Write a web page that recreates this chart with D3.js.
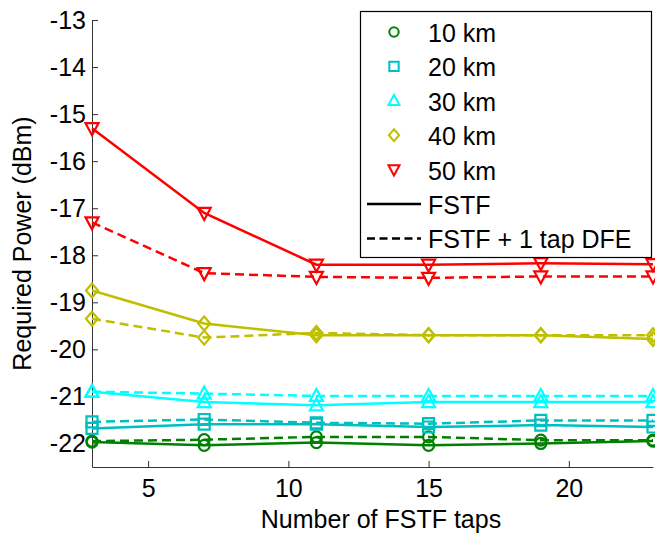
<!DOCTYPE html>
<html>
<head>
<meta charset="utf-8">
<script src="https://cdn.jsdelivr.net/npm/d3@7/dist/d3.min.js"></script>
<style>
  html, body { margin: 0; padding: 0; background: #fff; }
  svg { display: block; font-family: Arial, "Liberation Sans", sans-serif; }
</style>
</head>
<body>
<svg id="chart" width="655" height="534"></svg>
<script>
// Number of FSTF taps on the x axis
const taps = [3, 7, 11, 15, 19, 23];
const distances = ["10 km", "20 km", "30 km", "40 km", "50 km"];

// Required power (dBm), FSTF only
const fstf10 = [-21.97, -22.04, -21.98, -22.04, -22.00, -21.95];
const fstf20 = [-21.68, -21.59, -21.59, -21.65, -21.61, -21.65];
const fstf30 = [-20.90, -21.12, -21.19, -21.12, -21.12, -21.12];
const fstf40 = [-18.75, -19.45, -19.70, -19.70, -19.70, -19.78];
const fstf50 = [-15.30, -17.10, -18.20, -18.20, -18.17, -18.19];

// Required power (dBm), FSTF + 1 tap DFE
const dfe10 = [-21.95, -21.92, -21.86, -21.86, -21.93, -21.93];
const dfe20 = [-21.54, -21.49, -21.56, -21.58, -21.51, -21.51];
const dfe30 = [-20.90, -20.94, -20.99, -20.99, -20.99, -20.99];
const dfe40 = [-19.35, -19.75, -19.65, -19.70, -19.70, -19.70];
const dfe50 = [-17.30, -18.38, -18.46, -18.48, -18.45, -18.45];

const xTicks = [5, 10, 15, 20];
const yTicks = [-22, -21, -20, -19, -18, -17, -16, -15, -14, -13];

const colors = ["#008000", "#00BFBF", "#00FFFF", "#BFBF00", "#FF0000"];
const markers = ["circle", "square", "triangleUp", "diamond", "triangleDown"];
const fstfSeries = [fstf10, fstf20, fstf30, fstf40, fstf50];
const dfeSeries = [dfe10, dfe20, dfe30, dfe40, dfe50];

const svg = d3.select("#chart");
const x = d3.scaleLinear().domain([3, 23]).range([92, 653]);
const y = d3.scaleLinear().domain([-22.5, -13]).range([467, 20]);

function markerPath(kind, k = 1) {
  const p = d3.path();
  if (kind === "circle") {
    p.arc(0, 0, 5.5 * k, 0, 2 * Math.PI);
  } else if (kind === "square") {
    const s = 5.5 * k;
    p.rect(-s, -s, 2 * s, 2 * s);
  } else if (kind === "triangleUp") {
    p.moveTo(0, -7 * k); p.lineTo(6.5 * k, 5 * k); p.lineTo(-6.5 * k, 5 * k); p.closePath();
  } else if (kind === "triangleDown") {
    p.moveTo(0, 7 * k); p.lineTo(6.5 * k, -5 * k); p.lineTo(-6.5 * k, -5 * k); p.closePath();
  } else if (kind === "diamond") {
    p.moveTo(0, -7 * k); p.lineTo(6 * k, 0); p.lineTo(0, 7 * k); p.lineTo(-6 * k, 0); p.closePath();
  }
  return p.toString();
}

// Axes (left and bottom only, ticks pointing inward)
const axisColor = "#333";
const yAxis = d3.axisLeft(y).tickValues(yTicks).tickFormat(d => String(d))
  .tickSizeInner(-6).tickSizeOuter(0).tickPadding(6);
const xAxis = d3.axisBottom(x).tickValues(xTicks).tickFormat(d => String(d))
  .tickSizeInner(-6).tickSizeOuter(0).tickPadding(12);

const gy = svg.append("g").attr("transform", `translate(${x(3)},0)`).call(yAxis);
const gx = svg.append("g").attr("transform", `translate(0,${y(-22.5)})`).call(xAxis);
[gx, gy].forEach(g => {
  g.select(".domain").attr("stroke", axisColor).attr("stroke-width", 1);
  g.selectAll(".tick line").attr("stroke", axisColor).attr("stroke-width", 1);
  g.selectAll(".tick text").attr("fill", "#000").style("font-size", "25px")
    .style("font-family", "Arial, 'Liberation Sans', sans-serif");
});

// Axis titles
svg.append("text")
  .attr("x", 381).attr("y", 528)
  .attr("text-anchor", "middle").style("font-size", "25px")
  .text("Number of FSTF taps");
svg.append("text")
  .attr("transform", `translate(31,${(y(-13) + y(-22.5)) / 2}) rotate(-90)`)
  .attr("text-anchor", "middle").style("font-size", "25px")
  .text("Required Power (dBm)");

// Series
const line = d3.line().x((d, i) => x(taps[i])).y(d => y(d));
const plot = svg.append("g");
distances.forEach((name, s) => {
  [[fstfSeries[s], null], [dfeSeries[s], "9,5"]].forEach(([vals, dash]) => {
    plot.append("path")
      .attr("d", line(vals))
      .attr("fill", "none")
      .attr("stroke", colors[s])
      .attr("stroke-width", 2.5)
      .attr("stroke-dasharray", dash);
    plot.selectAll(null).data(vals).enter().append("path")
      .attr("d", markerPath(markers[s]))
      .attr("transform", (d, i) => `translate(${x(taps[i])},${y(d)})`)
      .attr("fill", "none")
      .attr("stroke", colors[s])
      .attr("stroke-width", 2.2);
  });
});

// Legend
const legend = svg.append("g");
legend.append("rect")
  .attr("x", 360.5).attr("y", 11.5).attr("width", 291).attr("height", 246)
  .attr("fill", "#fff").attr("stroke", "#000").attr("stroke-width", 1.2);
const rowY = i => 32 + i * 34.4;
distances.forEach((name, i) => {
  legend.append("path")
    .attr("d", markerPath(markers[i], 0.85))
    .attr("transform", `translate(394,${rowY(i)})`)
    .attr("fill", "none").attr("stroke", colors[i]).attr("stroke-width", 2);
  legend.append("text")
    .attr("x", 428).attr("y", rowY(i) + 10)
    .style("font-size", "25px").text(name);
});
[["FSTF", null], ["FSTF + 1 tap DFE", "8,4.5"]].forEach(([name, dash], j) => {
  const yy = rowY(5 + j);
  legend.append("line")
    .attr("x1", 367).attr("x2", 421).attr("y1", yy).attr("y2", yy)
    .attr("stroke", "#000").attr("stroke-width", 2.5)
    .attr("stroke-dasharray", dash);
  legend.append("text")
    .attr("x", 428).attr("y", yy + 10)
    .style("font-size", "25px").text(name);
});
</script>
</body>
</html>
